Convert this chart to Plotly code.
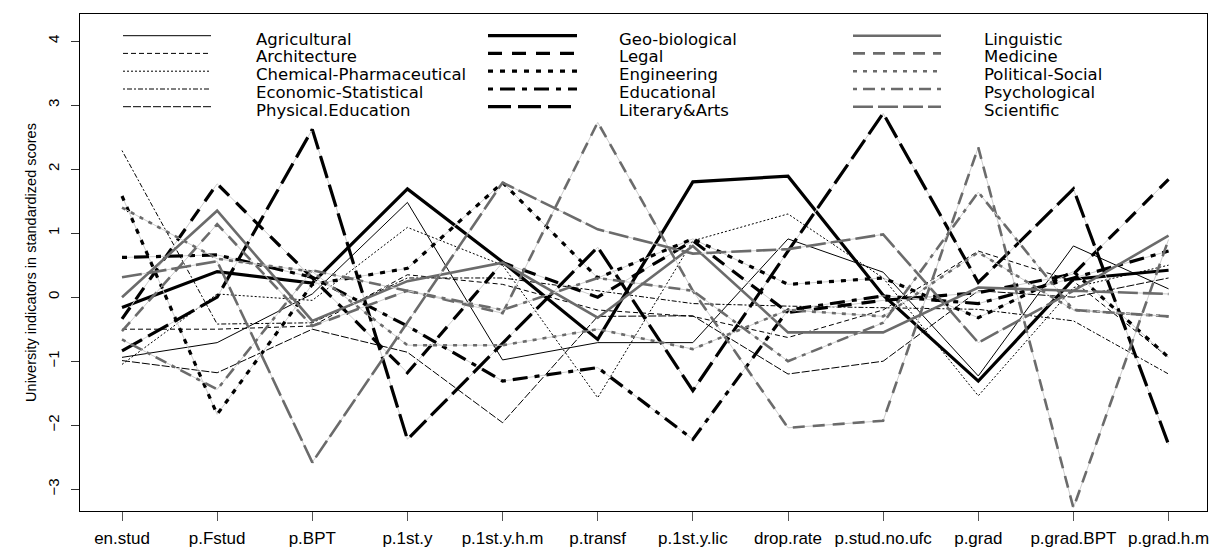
import plotly.graph_objects as go

indicators = ["en.stud", "p.Fstud", "p.BPT", "p.1st.y", "p.1st.y.h.m", "p.transf",
              "p.1st.y.lic", "drop.rate", "p.stud.no.ufc", "p.grad", "p.grad.BPT", "p.grad.h.m"]

agricultural = [-0.94, -0.71, 0.05, 1.48, -0.98, -0.71, -0.71, 0.91, 0.39, -1.23, 0.80, 0.13]
architecture = [-0.50, -0.50, -0.45, 0.35, 0.20, -0.20, -0.30, -0.63, -0.20, 0.72, 0.25, -0.94]
chemical_pharm = [-1.05, 0.05, -0.05, 1.09, 0.50, -1.57, 0.88, 1.30, 0.30, -1.54, 0.15, 0.50]
economic_stat = [2.29, -0.42, -0.40, 0.30, 0.30, 0.10, -0.10, -0.14, -0.16, -0.19, -0.37, -1.20]
physical_edu = [-0.99, -1.18, -0.50, -0.86, -1.96, -0.30, -0.29, -1.20, -1.00, 0.10, 0.00, 0.30]
geo_biological = [-0.16, 0.40, 0.22, 1.69, 0.55, -0.66, 1.80, 1.89, 0.03, -1.31, 0.28, 0.42]
legal = [-0.34, 1.77, 0.30, -1.18, 0.54, 0.00, 0.88, -0.24, -0.05, 0.07, 0.36, 1.84]
engineering = [1.58, -1.83, 0.20, 0.45, 1.79, 0.30, 0.91, 0.20, 0.30, -0.32, 0.40, -0.94]
educational = [0.62, 0.66, 0.31, -0.45, -1.31, -1.10, -2.22, -0.20, 0.02, -0.10, 0.30, 0.72]
literary_arts = [-0.84, 0.00, 2.62, -2.22, -0.72, 0.78, -1.46, 0.72, 2.87, 0.23, 1.69, -2.30]
linguistic = [0.00, 1.35, -0.37, 0.25, 0.54, -0.32, 0.80, -0.55, -0.55, 0.15, 0.10, 0.96]
medicine = [-0.53, 1.14, -0.45, 0.10, -0.25, 2.73, 0.10, -2.04, -1.93, 2.34, -3.29, 0.90]
political_social = [1.40, 0.60, 0.40, -0.75, -0.75, -0.50, -0.81, -0.20, -0.30, 0.70, -0.20, -0.30]
psychological = [-0.66, -1.44, 0.42, 0.10, -0.20, 0.30, 0.10, -1.00, -0.40, 1.64, -0.20, -0.30]
scientific = [0.31, 0.56, -2.58, -0.40, 1.79, 1.06, 0.68, 0.75, 0.98, -0.71, 0.10, 0.05]

faculties = ["Agricultural", "Architecture", "Chemical-Pharmaceutical", "Economic-Statistical",
             "Physical.Education", "Geo-biological", "Legal", "Engineering", "Educational",
             "Literary&Arts", "Linguistic", "Medicine", "Political-Social", "Psychological",
             "Scientific"]
scores = [agricultural, architecture, chemical_pharm, economic_stat, physical_edu,
          geo_biological, legal, engineering, educational, literary_arts,
          linguistic, medicine, political_social, psychological, scientific]

GRAY = "#6b6b6b"
# R-like line types (solid, dashed, dotted, dotdash, longdash) for three line weights
thin_dash = [None, "5px,3px", "2px,2px", "2px,2px,5px,2px", "8px,2px"]
thick_dash = [None, "14px,10px", "5px,7px", "5px,7px,15px,7px", "23px,7px"]
gray_dash = [None, "12px,8px", "4px,6px", "4px,6px,12px,6px", "20px,5px"]

styles = []
for i in range(15):
    k = i % 5
    if i < 5:
        styles.append(dict(color="black", width=1.0, dash=thin_dash[k]))
    elif i < 10:
        styles.append(dict(color="black", width=3.2, dash=thick_dash[k]))
    else:
        styles.append(dict(color=GRAY, width=2.6, dash=gray_dash[k]))

fig = go.Figure()
for name, vals, st in zip(faculties, scores, styles):
    if st["dash"] is not None and st["width"] > 2:
        fig.add_trace(go.Scatter(x=indicators, y=vals, mode="lines", showlegend=False,
                                 hoverinfo="skip",
                                 line=dict(color="#cdcdcd", width=1)))
    line = dict(color=st["color"], width=st["width"])
    if st["dash"] is not None:
        line["dash"] = st["dash"]
    fig.add_trace(go.Scatter(x=indicators, y=vals, mode="lines", name=name,
                             showlegend=False, line=line))

# legend in three columns, drawn in paper coordinates
W, H = 1211, 548
L, R, T, B = 80, 4, 14, 37
pw, ph = W - L - R, H - T - B
col_line_x = [(123, 211), (488, 577), (853, 941)]
col_text_x = [256, 619, 984]
row_y = [35.7, 53.4, 71.2, 89.0, 106.7]
for i, (name, st) in enumerate(zip(faculties, styles)):
    c, r = divmod(i, 5)
    x0, x1 = col_line_x[c]
    yy = 1 - (row_y[r] - T) / ph
    line = dict(color=st["color"], width=st["width"])
    if st["dash"] is not None:
        line["dash"] = st["dash"]
    fig.add_shape(type="line", xref="paper", yref="paper",
                  x0=(x0 - L) / pw, x1=(x1 - L) / pw, y0=yy, y1=yy, line=line)
    fig.add_annotation(xref="paper", yref="paper", x=(col_text_x[c] - L) / pw,
                       y=1 - (row_y[r] + 3.5 - T) / ph, text=name, showarrow=False,
                       xanchor="left", yanchor="middle", xshift=-2,
                       font=dict(size=16.5, color="black",
                                 family="DejaVu Sans, Liberation Sans, sans-serif"))

fig.update_layout(
    width=W, height=H,
    margin=dict(l=L, r=R, t=T, b=B),
    paper_bgcolor="white", plot_bgcolor="white",
    font=dict(family="Liberation Sans, Arial, sans-serif", color="black"),
    showlegend=False,
)
fig.update_xaxes(
    type="category", range=[-0.4415, 11.404], automargin=False,
    showgrid=False, zeroline=False,
    showline=True, mirror=True, linecolor="black", linewidth=1,
    ticks="outside", ticklen=9, tickcolor="#555555", tickwidth=1,
    tickfont=dict(size=17), ticklabelstandoff=3,
)
fig.update_yaxes(
    range=[-3.339, 4.422], automargin=False,
    tickvals=[-3, -2, -1, 0, 1, 2, 3, 4],
    showgrid=False, zeroline=False,
    showline=True, mirror=True, linecolor="black", linewidth=1,
    ticks="outside", ticklen=8, tickcolor="#333333", tickwidth=1,
    tickangle=-90, tickfont=dict(size=15), ticklabelstandoff=6,
    title=dict(text="University indicators in standardized scores",
               font=dict(size=14.5), standoff=4),
)

fig.write_html("out.html")
